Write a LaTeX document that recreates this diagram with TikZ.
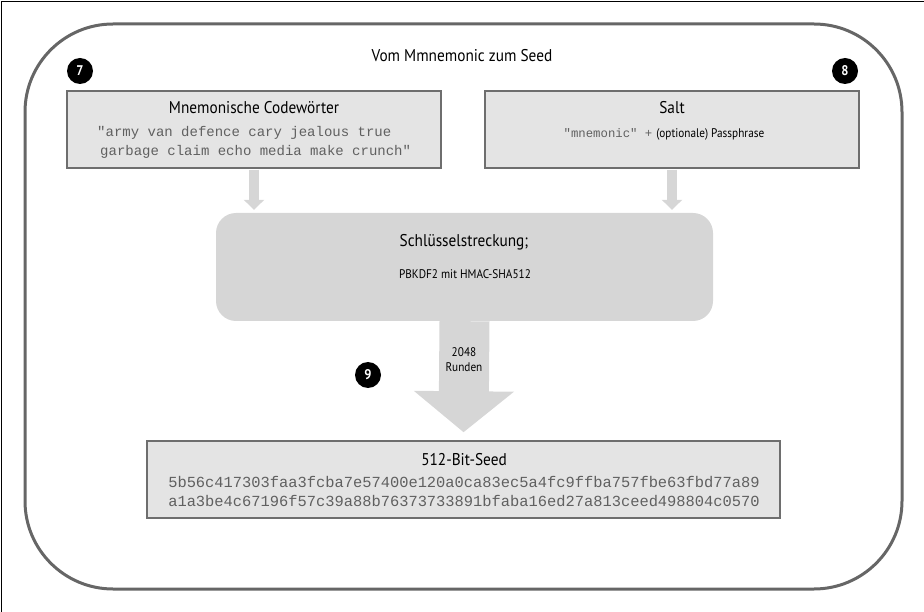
\documentclass[tikz,border=0pt]{standalone}
\usepackage{fontspec}
\setmainfont{PT Sans}
\newfontfamily\cond[FakeStretch=0.9]{PT Sans}
\setmonofont{Liberation Mono}
\usetikzlibrary{arrows.meta}
\definecolor{boxfill}{HTML}{E4E4E4}
\definecolor{boxline}{HTML}{6E6E6E}
\definecolor{procfill}{HTML}{D6D6D6}
\definecolor{framec}{HTML}{666666}
\definecolor{monoc}{HTML}{606060}
\tikzset{
  frame/.style={draw=framec, line width=3pt, rounded corners=88pt, inner sep=0pt},
  databox/.style={draw=boxline, line width=1.5pt, fill=boxfill, inner sep=0pt},
  procbox/.style={fill=procfill, rounded corners=20pt, inner sep=0pt},
  smallarrow/.style={draw=procfill, line width=10pt, -{Triangle[width=20pt,length=10pt]}, shorten >=3pt, shorten <=0.8pt},
  bigarrow/.style={draw=procfill, line width=50pt, -{Triangle[width=98pt,length=41pt]}, shorten >=8pt},
  marker/.style={circle, fill=black, text=white, minimum size=26pt, inner sep=0pt, font=\cond\bfseries\fontsize{14}{14}\selectfont},
  headtxt/.style={font=\cond\fontsize{17}{19}\selectfont, inner sep=0pt},
  smalltxt/.style={font=\cond\fontsize{12.5}{15}\selectfont, inner sep=0pt},
  monotxt/.style={font=\ttfamily\fontsize{14}{19}\selectfont, text=monoc, inner sep=0pt},
}
\begin{document}
\begin{tikzpicture}[x=1pt,y=-1pt]
\useasboundingbox (0,0) rectangle (924,612);
\draw[black, line width=1pt] (1.5,612) -- (1.5,1.5) -- (924,1.5);
\node[frame, minimum width=877pt, minimum height=565pt] (frame) at (463.5,306.5) {};
\node[headtxt] (title) at (462,56) {Vom Mmnemonic zum Seed};

\node[databox, minimum width=374pt, minimum height=77pt] (mn) at (254,129.5) {};
\node[databox, minimum width=374pt, minimum height=77pt] (salt) at (672,129.5) {};
\node[procbox, minimum width=497pt, minimum height=108pt] (proc) at (464.5,267) {};
\node[databox, minimum width=633pt, minimum height=77pt] (seed) at (463.5,479.5) {};

\draw[smallarrow] (mn.south) -- (mn.south |- proc.north);
\draw[smallarrow] (salt.south) -- (salt.south |- proc.north);
\draw[bigarrow] (proc.south) -- (seed.north);

\node[headtxt] (mntitle) at (254,108) {Mnemonische Codewörter};
\node[monotxt, align=left, anchor=west] (mnwords) at (97,142.5) {"army van defence cary jealous true\\\hspace{3pt}garbage claim echo media make crunch"};

\node[headtxt] (salttitle) at (672,108) {Salt};
\node[inner sep=0pt] (saltline) at (664,134) {{\ttfamily\fontsize{12.3}{14}\selectfont\color{monoc}"mnemonic" +}\hspace{4pt}{\cond\fontsize{12.5}{14}\selectfont (optionale) Passphrase}};

\node[headtxt] (proctitle) at (464,242) {Schlüsselstreckung;};
\node[smalltxt] (procsub) at (465,274) {PBKDF2 mit HMAC-SHA512};
\node[smalltxt, align=center, font=\cond\fontsize{12.5}{15}\selectfont] (rounds) at (464,360) {2048\\Runden};

\node[headtxt] (seedtitle) at (464,460) {512-Bit-Seed};
\node[monotxt, font=\ttfamily\fontsize{15.4}{19}\selectfont] (hex1) at (464,482) {5b56c417303faa3fcba7e57400e120a0ca83ec5a4fc9ffba757fbe63fbd77a89};
\node[monotxt, font=\ttfamily\fontsize{15.4}{19}\selectfont] (hex2) at (464,501) {a1a3be4c67196f57c39a88b76373733891bfaba16ed27a813ceed498804c0570};

\node[marker] (m7) at (80,71) {7};
\node[marker] (m8) at (845,71) {8};
\node[marker] (m9) at (368,375) {9};
\end{tikzpicture}
\end{document}
